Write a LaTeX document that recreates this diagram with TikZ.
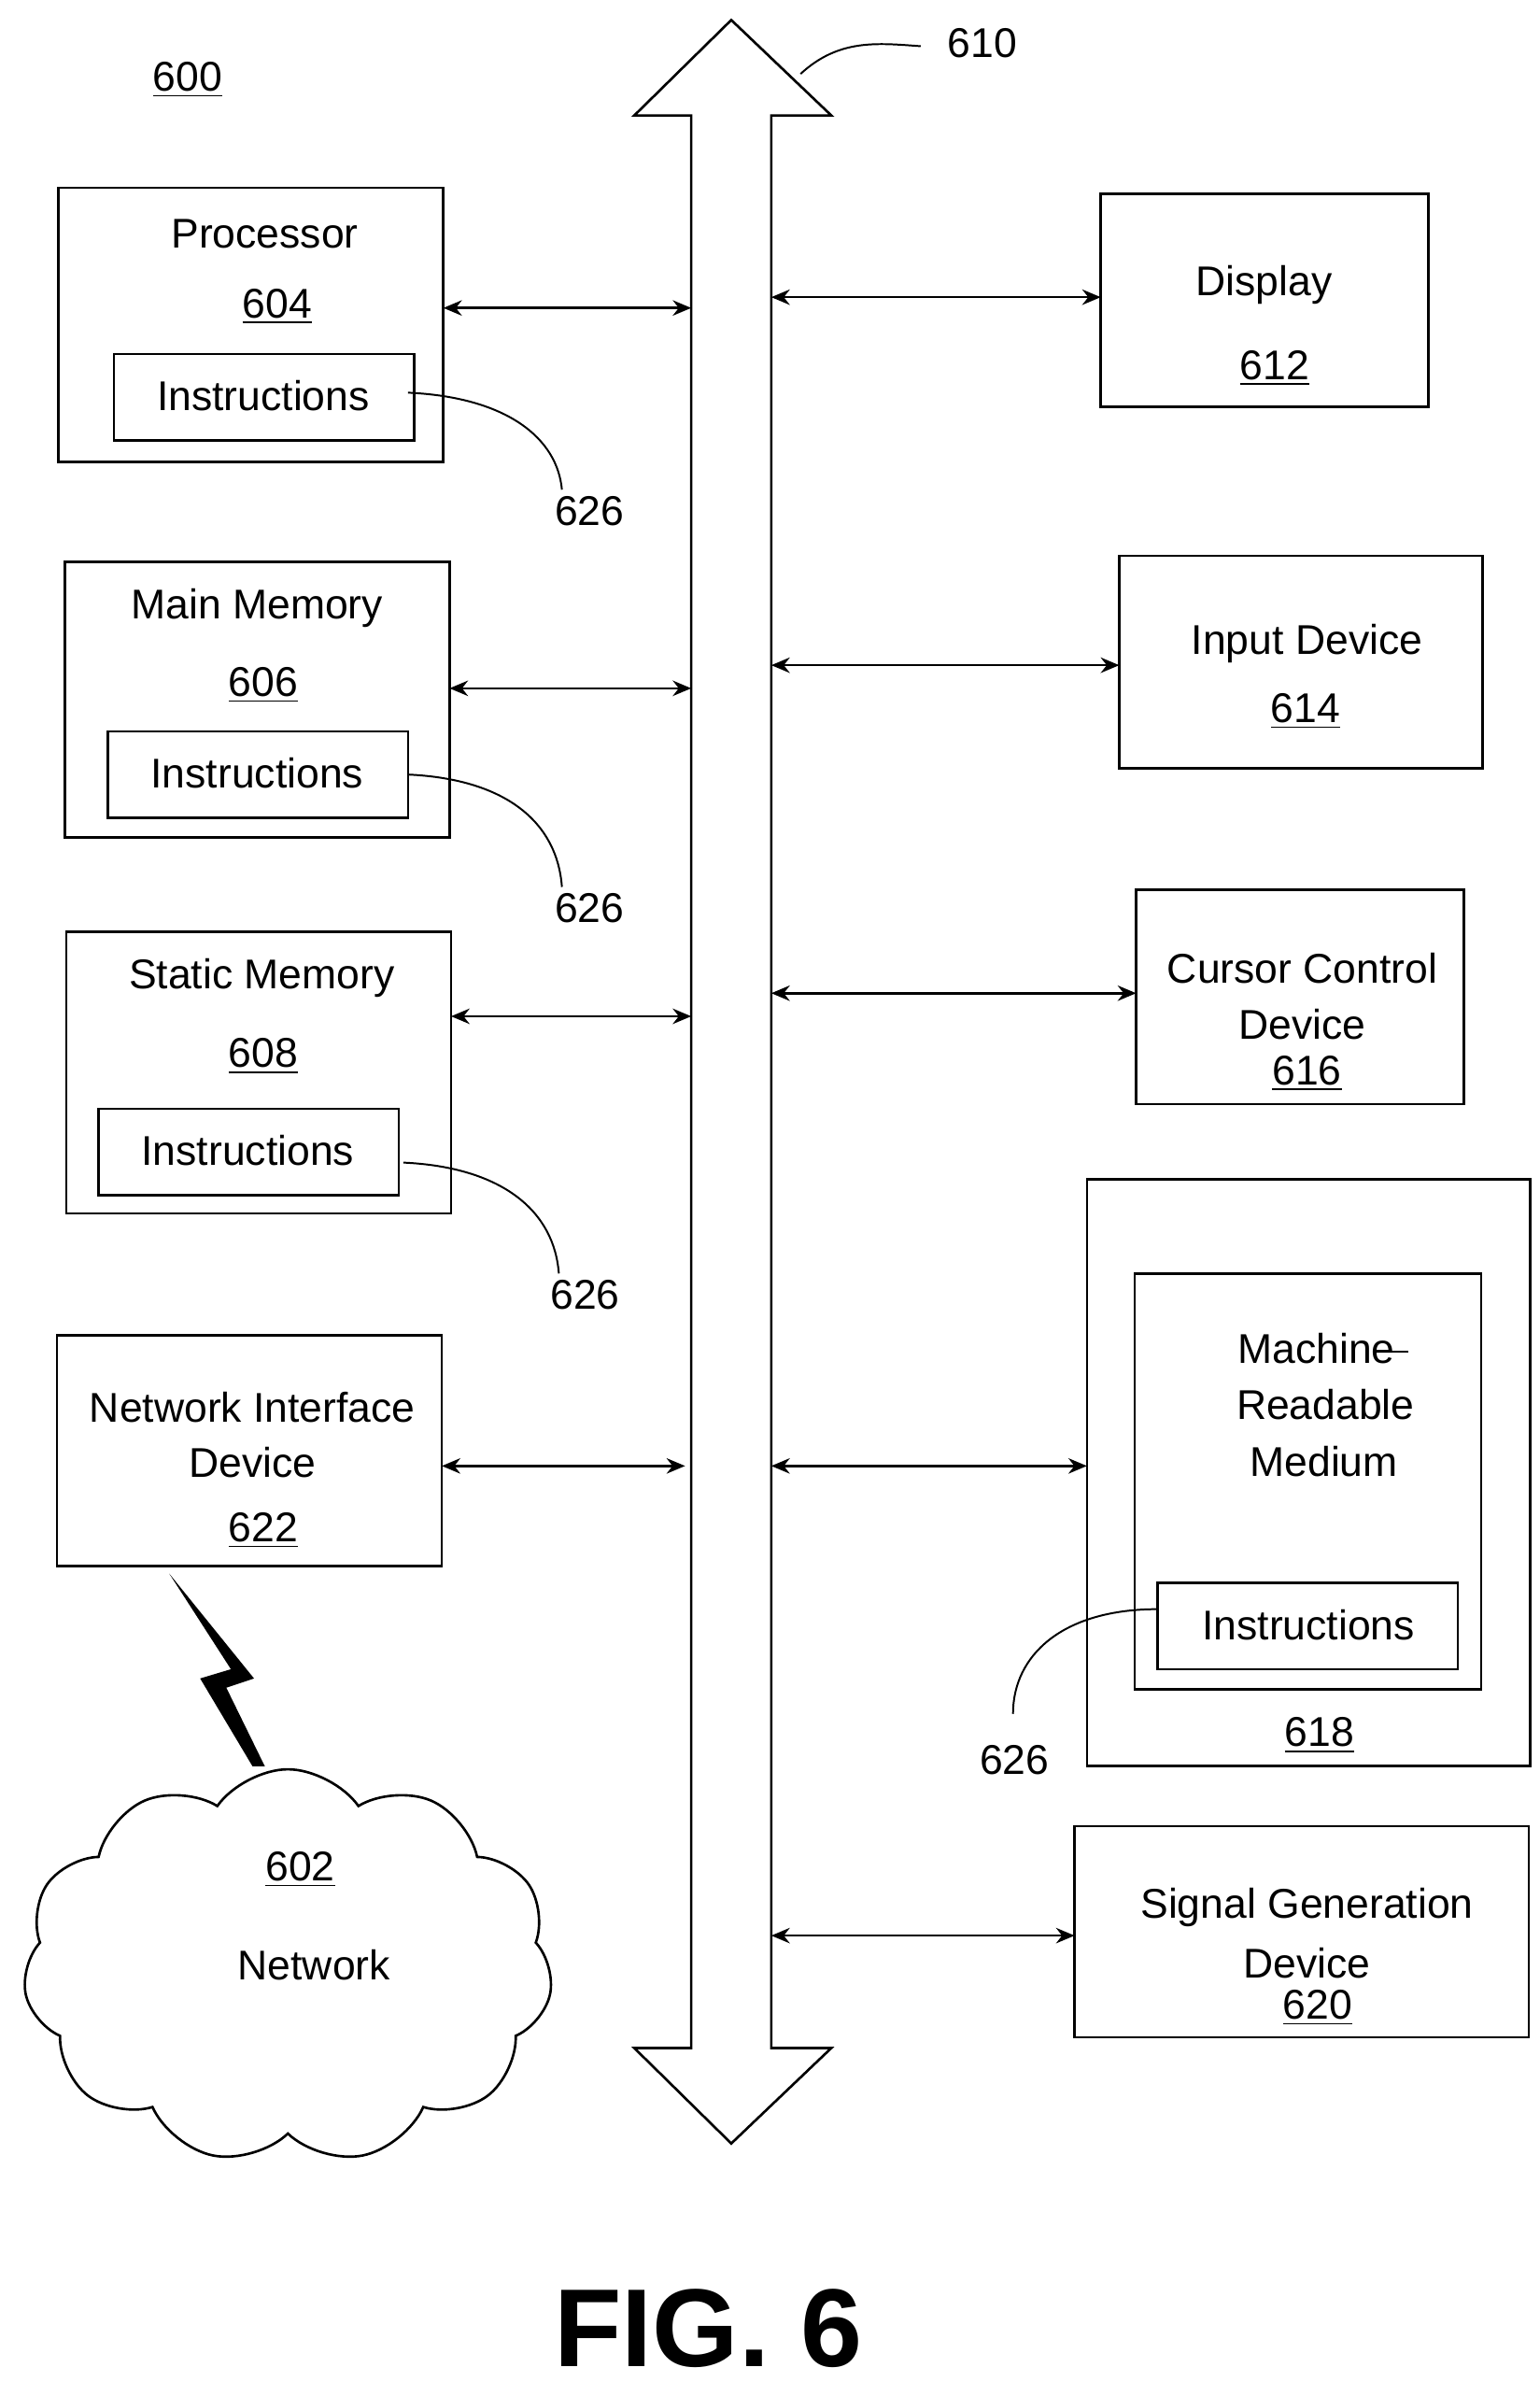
\documentclass[tikz,border=0pt]{standalone}
\usepackage{fontspec}
\setmainfont{Liberation Sans}
\usetikzlibrary{shapes.symbols,arrows.meta}
\begin{document}
\begin{tikzpicture}[x=0.5pt,y=-0.5pt,
  box/.style={draw,line width=0.8pt},
  t/.style={font=\fontsize{13.5}{16}\selectfont,inner sep=0pt},
  conn/.style={{Stealth[length=6pt,width=5pt]}-{Stealth[length=6pt,width=5pt]},line width=0.8pt},
  lead/.style={line width=0.6pt}]
\useasboundingbox (0,0) rectangle (1000,1556);
\fill[white] (0,0) rectangle (1000,1556);
\node[t] (l600) at (122,52) {\underline{600}};
% bus
\draw[line width=0.8pt] (449,75) -- (412,75) -- (475,13) -- (540,75) -- (501,75) -- (501,1330) -- (540,1330) -- (475,1392) -- (412,1330) -- (449,1330) -- cycle;
\node[t] (l610) at (638,28) {610};
\draw[lead] (520,48) .. controls (545,25) and (570,28) .. (598,30);
% left boxes
\draw[box] (38,122) rectangle (288,300);
\node[t] (p) at (172,152) {Processor};
\node[t] at (180,199) {\underline{604}};
\draw[box] (74,230) rectangle (269,286);
\node[t] (i1) at (171,257) {Instructions};
\draw[conn] (288,200) -- (449,200);
\node[t] (n1) at (383,332) {626};
\draw[lead] (265,255) .. controls (330,258) and (362,285) .. (365,318);

\draw[box] (42,365) rectangle (292,544);
\node[t] at (167,395) {Main Memory};
\node[t] at (171,445) {\underline{606}};
\draw[box] (70,475) rectangle (265,531);
\node[t] at (167,502) {Instructions};
\draw[conn] (292,447) -- (449,447);
\node[t] at (383,590) {626};
\draw[lead] (265,503) .. controls (330,506) and (362,535) .. (365,576);

\draw[box] (43,605) rectangle (293,788);
\node[t] at (170,635) {Static Memory};
\node[t] at (171,686) {\underline{608}};
\draw[box] (64,720) rectangle (259,776);
\node[t] at (161,747) {Instructions};
\draw[conn] (293,660) -- (449,660);
\node[t] at (380,841) {626};
\draw[lead] (262,755) .. controls (327,758) and (360,787) .. (363,827);

\draw[box] (37,867) rectangle (287,1017);
\node[t] at (164,914) {Network Interface};
\node[t] at (164,950) {Device};
\node[t] at (171,994) {\underline{622}};
\draw[conn] (287,952) -- (445,952);

% lightning
\fill (110,1022) -- (165,1090) -- (147,1096) -- (172,1147) -- (164,1147) -- (130,1090) -- (150,1084) -- cycle;

% cloud
\node[cloud,draw,line width=0.8pt,cloud puffs=11,cloud puff arc=110,aspect=1.3,minimum width=172pt,minimum height=128pt] (cloud) at (187,1277) {};
\node[t] at (195,1214) {\underline{602}};
\node[t] at (204,1276) {Network};

% right boxes
\draw[box] (715,126) rectangle (928,264);
\node[t] at (821,185) {Display};
\node[t] at (828,239) {\underline{612}};
\draw[conn] (501,193) -- (715,193);

\draw[box] (727,361) rectangle (963,499);
\node[t] at (849,418) {Input Device};
\node[t] at (848,462) {\underline{614}};
\draw[conn] (501,432) -- (727,432);

\draw[box] (738,578) rectangle (951,717);
\node[t] at (846,629) {Cursor Control};
\node[t] at (846,665) {Device};
\node[t] at (849,697) {\underline{616}};
\draw[conn] (501,645) -- (738,645);

\draw[box] (706,766) rectangle (994,1147);
\draw[box] (737,827) rectangle (962,1097);
\node[t] at (855,876) {Machine};
\draw[lead] (895,878) -- (915,878);
\node[t] at (861,912) {Readable};
\node[t] at (860,949) {Medium};
\draw[box] (752,1028) rectangle (947,1084);
\node[t] at (850,1055) {Instructions};
\node[t] at (857,1127) {\underline{618}};
\draw[conn] (501,952) -- (706,952);
\node[t] at (659,1143) {626};
\draw[lead] (752,1045) .. controls (690,1045) and (658,1075) .. (658,1113);

\draw[box] (698,1186) rectangle (993,1323);
\node[t] at (849,1239) {Signal Generation};
\node[t] at (849,1275) {Device};
\node[t] at (856,1304) {\underline{620}};
\draw[conn] (501,1257) -- (698,1257);

\node[font=\fontsize{36}{40}\selectfont\bfseries,inner sep=0pt] at (460,1512) {FIG. 6};
\end{tikzpicture}
\end{document}
